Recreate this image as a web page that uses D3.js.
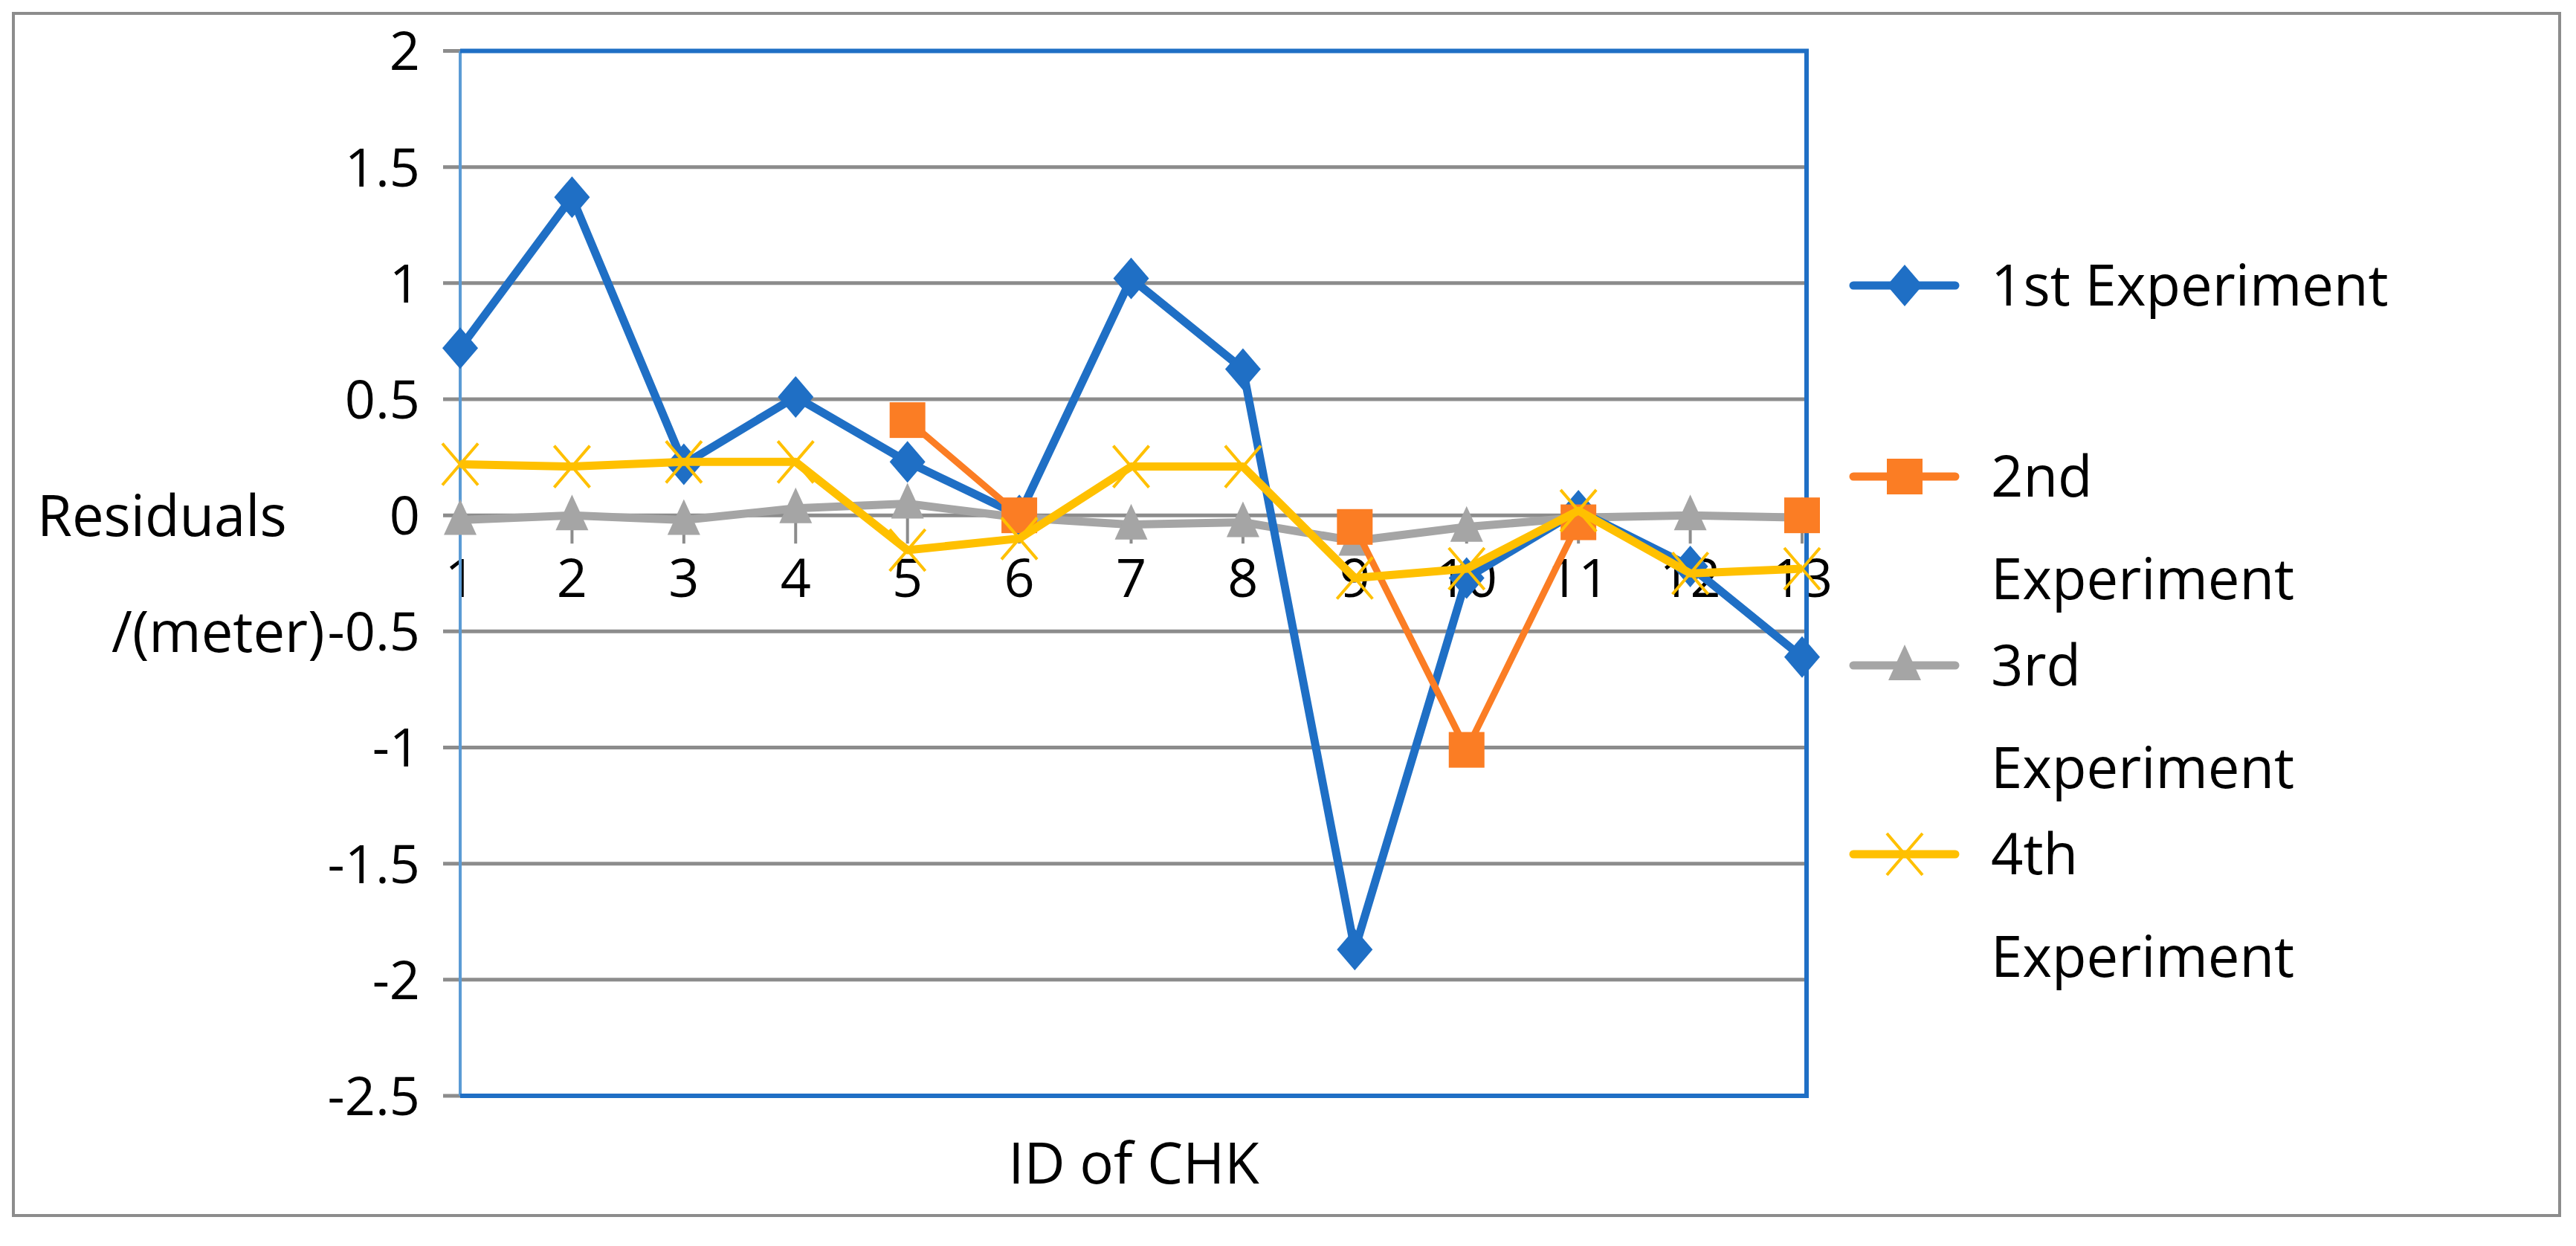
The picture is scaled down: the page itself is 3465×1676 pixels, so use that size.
<!DOCTYPE html>
<html><head><meta charset="utf-8">
<script src="https://cdn.jsdelivr.net/npm/d3@7"></script>
<style>body{margin:0;background:#fff}text{font-family:"Open Sans",sans-serif;fill:#000}</style>
</head><body><svg id="c" width="3465" height="1676"></svg>
<script>
const categories=["1","2","3","4","5","6","7","8","9","10","11","12","13"];
const s1=[0.72,1.37,0.22,0.51,0.23,0.0,1.02,0.63,-1.87,-0.27,0.02,-0.22,-0.61];
const s2=[null,null,null,null,0.41,0.0,null,null,-0.05,-1.01,-0.03,null,0.0];
const s3=[-0.02,0.0,-0.02,0.03,0.05,-0.01,-0.04,-0.03,-0.11,-0.05,-0.01,0.0,-0.01];
const s4=[0.22,0.21,0.23,0.23,-0.15,-0.10,0.21,0.21,-0.27,-0.23,0.02,-0.25,-0.23];
const yTicks=[2,1.5,1,0.5,0,-0.5,-1,-1.5,-2,-2.5];
const seriesNames=[["1st Experiment"],["2nd","Experiment"],["3rd","Experiment"],["4th","Experiment"]];
const colors=["#1f6fc5","#fb7d24","#a5a5a5","#ffc000"];
const shapes=["diamond","square","triangle","cross"];
const data=[s1,s2,s3,s4];

const svg=d3.select("#c");
svg.append("rect").attr("x",18).attr("y",18).attr("width",3425).attr("height",1617).attr("fill","none").attr("stroke","#8c8c8c").attr("stroke-width",4);
const x=d3.scalePoint().domain(categories).range([619,2424]);
const y=d3.scaleLinear().domain([-2.5,2]).range([1474,68.5]);
const g=svg.append("g");
let minusHalfLeft=480;
yTicks.forEach(t=>{
  g.append("line").attr("x1",596).attr("x2",2430).attr("y1",y(t)).attr("y2",y(t)).attr("stroke","#8c8c8c").attr("stroke-width",5);
  const tx=g.append("text").attr("x",565).attr("y",y(t)).attr("dy","0.36em").attr("text-anchor","end").attr("font-size",72).text(t);
  if(t===-0.5) minusHalfLeft=tx.node().getBBox().x;
});
categories.forEach(c=>{
  g.append("line").attr("x1",x(c)).attr("x2",x(c)).attr("y1",y(0)).attr("y2",y(0)+38).attr("stroke","#8c8c8c").attr("stroke-width",4);
  g.append("text").attr("x",x(c)).attr("y",y(0)+110).attr("text-anchor","middle").attr("font-size",72).text(c);
});
g.append("line").attr("x1",619).attr("x2",619).attr("y1",68.5).attr("y2",1474).attr("stroke","#5b9bd5").attr("stroke-width",4);
g.append("path").attr("d",`M619,68.5H2430V1474H619`).attr("fill","none").attr("stroke","#1f6fc5").attr("stroke-width",6);

g.append("text").attr("x",50).attr("y",y(0)).attr("dy","0.36em").attr("font-size",76).text("Residuals");
g.append("text").attr("x",minusHalfLeft-4).attr("y",y(-0.5)).attr("dy","0.36em").attr("text-anchor","end").attr("font-size",76).text("/(meter)");
g.append("text").attr("x",1525).attr("y",1565).attr("dy","0.36em").attr("text-anchor","middle").attr("font-size",76).text("ID of CHK");

function marker(sel,shape,col,cx,cy){
  if(shape==="diamond") sel.append("path").attr("d",`M${cx},${cy-28}L${cx+24},${cy}L${cx},${cy+28}L${cx-24},${cy}Z`).attr("fill",col);
  else if(shape==="square") sel.append("rect").attr("x",cx-24).attr("y",cy-24).attr("width",48).attr("height",48).attr("fill",col);
  else if(shape==="triangle") sel.append("path").attr("d",`M${cx},${cy-28}L${cx+22},${cy+20}L${cx-22},${cy+20}Z`).attr("fill",col);
  else sel.append("path").attr("d",`M${cx-24},${cy-28}L${cx+24},${cy+28}M${cx+24},${cy-28}L${cx-24},${cy+28}`).attr("stroke",col).attr("stroke-width",4);
}
const order=[2,0,1,3];
order.forEach(i=>{
  const arr=data[i];
  const line=d3.line().defined(d=>d!=null).x((d,j)=>x(categories[j])).y(d=>y(d));
  g.append("path").attr("d",line(arr)).attr("fill","none").attr("stroke",colors[i]).attr("stroke-width",i===1?9:11).attr("stroke-linejoin","round");
  arr.forEach((v,j)=>{ if(v!=null) marker(g,shapes[i],colors[i],x(categories[j]),y(v)); });
});
const legY=[384,641,895,1149];
seriesNames.forEach((n,i)=>{
  g.append("line").attr("x1",2493).attr("x2",2630).attr("y1",legY[i]).attr("y2",legY[i]).attr("stroke",colors[i]).attr("stroke-width",11).attr("stroke-linecap","round");
  marker(g,shapes[i],colors[i],2562,legY[i]);
  n.forEach((t,k)=>g.append("text").attr("x",2678).attr("y",legY[i]+k*138).attr("dy","0.36em").attr("font-size",76).text(t));
});
</script></body></html>
